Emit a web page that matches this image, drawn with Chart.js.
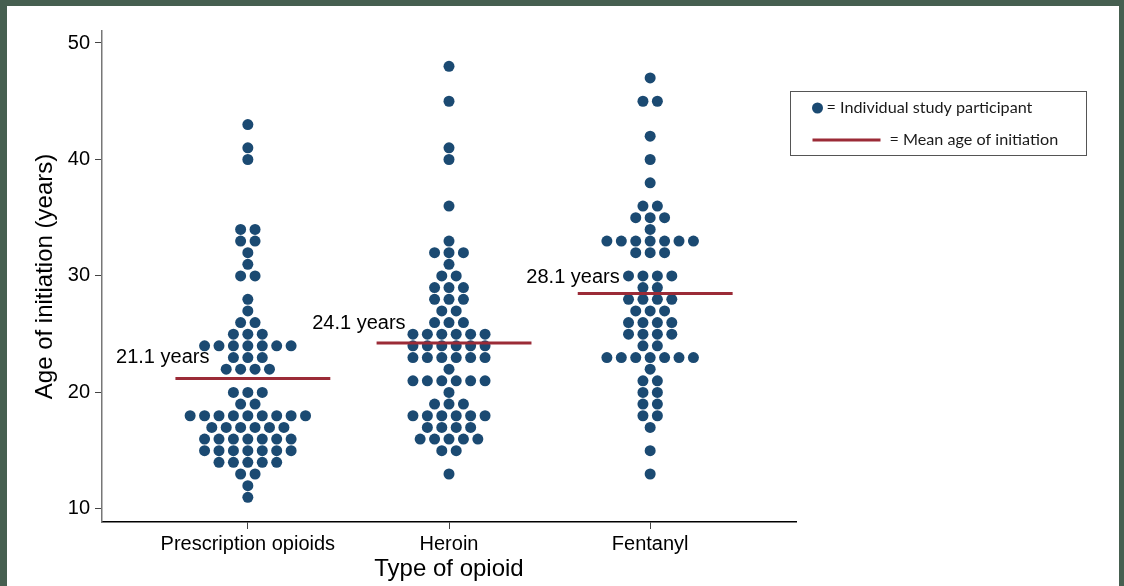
<!DOCTYPE html>
<html>
<head>
<meta charset="utf-8">
<script src="https://cdn.jsdelivr.net/npm/chart.js@4.4.1/dist/chart.umd.min.js"></script>
<style>
  html,body{margin:0;padding:0;background:#465f50;}
  #frame{position:absolute;left:7px;top:6px;width:1112px;height:580px;background:#fff;}
</style>
</head>
<body>
<div id="frame"><canvas id="swarm"></canvas></div>
<script>
/* Age of opioid initiation — dot plot */
const categories=['Prescription opioids','Heroin','Fentanyl'];

const rxAges  =[43,41,40,34,33,32,31,30,28,27,26,25,24,23,22,20,19,18,17,16,15,14,13,12,11];
const rxCounts=[ 1, 1, 1, 2, 2, 1, 1, 2, 1, 1, 2, 3, 7, 3, 4, 3, 2, 9, 6, 7, 7, 5, 2, 1, 1];

const heroinAges  =[48,45,41,40,36,33,32,31,30,29,28,27,26,25,24,23,22,21,20,19,18,17,16,15,13];
const heroinCounts=[ 1, 1, 1, 1, 1, 1, 3, 1, 2, 3, 3, 2, 3, 6, 6, 6, 1, 6, 1, 3, 6, 4, 5, 2, 1];

const fentAges  =[47,45,42,40,38,36,35,34,33,32,30,29,28,27,26,25,24,23,22,21,20,19,18,17,15,13];
const fentCounts=[ 1, 2, 1, 1, 1, 2, 3, 1, 7, 3, 4, 2, 4, 3, 4, 4, 2, 7, 1, 2, 2, 2, 2, 1, 1, 1];

const meanValues=[21.2,24.25,28.5];
const meanLabels=['21.1 years','24.1 years','28.1 years'];
const yTicks=[10,20,30,40,50];

const DOT='#1b4a72', MEAN='#9b2b37';
const STEP=0.0717; // horizontal dot spacing in category units

function swarm(ages,counts,c){
  const pts=[];
  ages.forEach(function(a,i){const n=counts[i];for(let j=0;j<n;j++)pts.push({x:c+(j-(n-1)/2)*STEP,y:a});});
  return pts;
}
function meanLine(i){return [{x:i+1-0.36,y:meanValues[i]},{x:i+1+0.41,y:meanValues[i]}];}

const dotSets=[swarm(rxAges,rxCounts,1),swarm(heroinAges,heroinCounts,2),swarm(fentAges,fentCounts,3)];

const datasets=[];
for(let i=0;i<3;i++)datasets.push({type:'line',data:meanLine(i),borderColor:MEAN,borderWidth:3,pointRadius:0,fill:false,order:0});
for(let i=0;i<3;i++)datasets.push({type:'scatter',data:dotSets[i],backgroundColor:DOT,borderWidth:0,pointRadius:5.5,order:1});

const labelPlugin={id:'meanLabels',afterDatasetsDraw(chart){
  const ctx=chart.ctx,xs=chart.scales.x,ys=chart.scales.y;
  const dx=[34,29,42],dy=[-21,-19,-16];
  ctx.save();ctx.font='20px "Liberation Sans", Arial, sans-serif';ctx.fillStyle='#000';ctx.textAlign='right';ctx.textBaseline='middle';
  for(let i=0;i<3;i++){
    const px=xs.getPixelForValue(i+1-0.36),py=ys.getPixelForValue(meanValues[i]);
    ctx.fillText(meanLabels[i],px+dx[i],py+dy[i]);
  }
  ctx.restore();
}};

// legend text is stretched to the widths seen in the original (Calibri-like)
function fitFont(ctx,text,target){
  ctx.font='14px Lato, "Open Sans", sans-serif';
  const s=14*target/ctx.measureText(text).width;
  return s.toFixed(2)+'px Lato, "Open Sans", sans-serif';
}
const legendPlugin={id:'boxLegend',afterDraw(chart){
  const ctx=chart.ctx;const x0=783.5,y0=85.5,w=296,h=64;
  const t1='= Individual study participant',t2='= Mean age of initiation';
  ctx.save();
  ctx.strokeStyle='#555';ctx.lineWidth=1;ctx.strokeRect(x0,y0,w,h);
  ctx.fillStyle=DOT;ctx.beginPath();ctx.arc(x0+27,y0+16.5,5.5,0,Math.PI*2);ctx.fill();
  ctx.strokeStyle=MEAN;ctx.lineWidth=3;ctx.beginPath();ctx.moveTo(x0+22,y0+48.5);ctx.lineTo(x0+90,y0+48.5);ctx.stroke();
  ctx.fillStyle='#1a1a1a';ctx.textAlign='left';ctx.textBaseline='middle';
  const f=fitFont(ctx,t1,206);
  ctx.font=f;ctx.fillText(t1,x0+36,y0+16.5);
  ctx.fillText(t2,x0+99,y0+48.5);
  ctx.restore();
}};

const axisFont={family:'"Liberation Sans", Arial, sans-serif',size:20};
new Chart(document.getElementById('swarm'),{
  data:{datasets:datasets},
  options:{responsive:true,maintainAspectRatio:false,animation:false,events:[],
    layout:{padding:{left:0,top:25,right:323,bottom:0}},
    plugins:{legend:{display:false},tooltip:{enabled:false}},
    scales:{
      x:{type:'linear',min:0.275,max:3.725,
        afterBuildTicks(s){s.ticks=[1,2,3].map(v=>({value:v}));},
        afterFit(s){s.height=64;},
        ticks:{callback:v=>categories[v-1],color:'#000',font:axisFont,padding:3,autoSkip:false,maxRotation:0},
        grid:{drawOnChartArea:false,drawTicks:true,tickLength:7,color:'#444'},
        border:{display:true,color:'#000',width:1.5},
        title:{display:true,text:'Type of opioid',color:'#000',font:{family:axisFont.family,size:24},padding:{top:0,bottom:2}}},
      y:{type:'linear',min:8.88,max:51.03,
        afterBuildTicks(s){s.ticks=yTicks.map(v=>({value:v}));},
        afterFit(s){s.width=95;},
        ticks:{color:'#000',font:axisFont,padding:5},
        grid:{drawOnChartArea:false,drawTicks:true,tickLength:7,color:'#444'},
        border:{display:true,color:'#777',width:1.5},
        title:{display:true,text:'Age of initiation (years)',color:'#000',font:{family:axisFont.family,size:24},padding:{top:24,bottom:0}}}
    }
  },
  plugins:[labelPlugin,legendPlugin]
});
</script>
</body>
</html>
